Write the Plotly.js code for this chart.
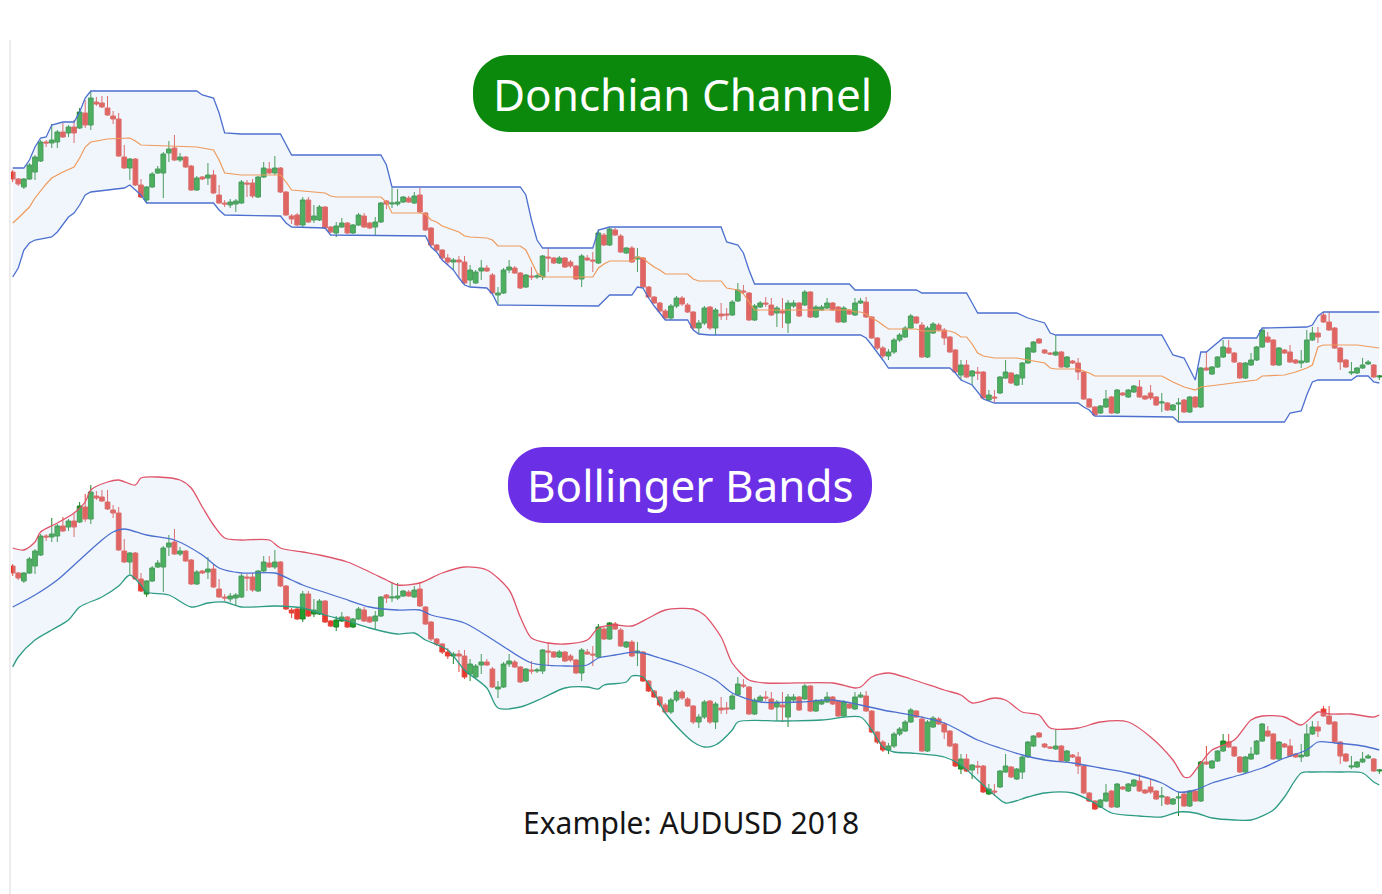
<!DOCTYPE html>
<html>
<head>
<meta charset="utf-8">
<script src="https://cdn.plot.ly/plotly-3.0.1.min.js"></script>
<style>html,body{margin:0;padding:0;background:#fff;}#chart{width:1382px;height:894px;}</style>
</head>
<body>
<div id="chart"></div>
<script>
// AUDUSD 2018 daily candles
const open = [
0.7884,0.7863,0.7839,0.7863,0.7884,0.7917,0.7974,0.7971,0.7974,0.8004,
0.8001,0.8019,0.8016,0.8061,0.8025,0.8094,0.8091,0.8076,0.8052,0.8043,
0.7929,0.7896,0.7923,0.7845,0.7800,0.7839,0.7881,0.7881,0.7941,0.7956,
0.7920,0.7929,0.7902,0.7830,0.7869,0.7866,0.7875,0.7815,0.7791,0.7785,
0.7788,0.7791,0.7851,0.7851,0.7809,0.7869,0.7893,0.7881,0.7896,0.7824,
0.7752,0.7755,0.7725,0.7800,0.7740,0.7740,0.7779,0.7719,0.7701,0.7719,
0.7731,0.7701,0.7725,0.7752,0.7731,0.7719,0.7734,0.7797,0.7788,0.7788,
0.7794,0.7806,0.7791,0.7815,0.7761,0.7716,0.7665,0.7650,0.7626,0.7614,
0.7620,0.7614,0.7560,0.7551,0.7587,0.7596,0.7575,0.7515,0.7521,0.7590,
0.7596,0.7581,0.7539,0.7572,0.7569,0.7569,0.7629,0.7626,0.7611,0.7626,
0.7614,0.7602,0.7563,0.7626,0.7620,0.7611,0.7695,0.7665,0.7710,0.7692,
0.7641,0.7656,0.7623,0.7626,0.7539,0.7509,0.7491,0.7467,0.7446,0.7482,
0.7506,0.7485,0.7464,0.7416,0.7431,0.7479,0.7416,0.7458,0.7458,0.7455,
0.7497,0.7527,0.7521,0.7440,0.7479,0.7491,0.7485,0.7461,0.7467,0.7431,
0.7482,0.7491,0.7485,0.7524,0.7449,0.7470,0.7476,0.7491,0.7479,0.7434,
0.7470,0.7455,0.7491,0.7494,0.7449,0.7386,0.7356,0.7332,0.7344,0.7380,
0.7389,0.7416,0.7449,0.7425,0.7329,0.7401,0.7425,0.7410,0.7389,0.7350,
0.7275,0.7305,0.7272,0.7284,0.7284,0.7200,0.7209,0.7221,0.7266,0.7281,
0.7245,0.7266,0.7311,0.7344,0.7383,0.7350,0.7341,0.7335,0.7344,0.7299,
0.7317,0.7311,0.7284,0.7203,0.7179,0.7161,0.7179,0.7209,0.7161,0.7221,
0.7209,0.7224,0.7239,0.7212,0.7221,0.7209,0.7191,0.7191,0.7170,0.7188,
0.7200,0.7164,0.7209,0.7179,0.7296,0.7278,0.7299,0.7329,0.7356,0.7341,
0.7311,0.7266,0.7305,0.7320,0.7359,0.7389,0.7380,0.7305,0.7350,0.7344,
0.7320,0.7311,0.7314,0.7380,0.7401,0.7455,0.7434,0.7416,0.7356,0.7320,
0.7281,0.7281,0.7296,0.7308,0.7305,0.7269];
const high = [
0.7890,0.7866,0.7866,0.7911,0.7935,0.7980,0.7980,0.8028,0.8010,0.8031,
0.8025,0.8040,0.8076,0.8100,0.8127,0.8109,0.8112,0.8112,0.8067,0.8061,
0.7965,0.7926,0.7926,0.7863,0.7842,0.7884,0.7902,0.7944,0.7977,0.7995,
0.7941,0.7932,0.7905,0.7872,0.7872,0.7911,0.7890,0.7845,0.7800,0.7803,
0.7803,0.7860,0.7860,0.7863,0.7872,0.7914,0.7914,0.7932,0.7899,0.7827,
0.7758,0.7761,0.7809,0.7809,0.7785,0.7785,0.7782,0.7722,0.7734,0.7746,
0.7734,0.7728,0.7761,0.7761,0.7734,0.7749,0.7794,0.7800,0.7836,0.7833,
0.7812,0.7812,0.7824,0.7836,0.7764,0.7719,0.7668,0.7653,0.7638,0.7626,
0.7632,0.7632,0.7605,0.7590,0.7620,0.7605,0.7581,0.7539,0.7596,0.7620,
0.7602,0.7584,0.7578,0.7599,0.7578,0.7635,0.7656,0.7629,0.7632,0.7629,
0.7620,0.7605,0.7638,0.7635,0.7644,0.7710,0.7701,0.7716,0.7716,0.7698,
0.7659,0.7662,0.7656,0.7629,0.7542,0.7512,0.7494,0.7473,0.7488,0.7512,
0.7512,0.7491,0.7467,0.7440,0.7482,0.7482,0.7476,0.7491,0.7476,0.7500,
0.7551,0.7545,0.7524,0.7488,0.7497,0.7509,0.7506,0.7482,0.7506,0.7500,
0.7500,0.7494,0.7530,0.7527,0.7485,0.7485,0.7506,0.7494,0.7482,0.7482,
0.7473,0.7506,0.7506,0.7509,0.7452,0.7389,0.7362,0.7353,0.7386,0.7401,
0.7422,0.7458,0.7452,0.7434,0.7422,0.7434,0.7431,0.7416,0.7392,0.7353,
0.7320,0.7320,0.7290,0.7299,0.7287,0.7230,0.7230,0.7272,0.7320,0.7284,
0.7278,0.7314,0.7359,0.7377,0.7386,0.7353,0.7344,0.7395,0.7347,0.7332,
0.7320,0.7326,0.7287,0.7206,0.7182,0.7185,0.7230,0.7212,0.7233,0.7224,
0.7233,0.7245,0.7260,0.7215,0.7245,0.7212,0.7221,0.7194,0.7188,0.7206,
0.7203,0.7212,0.7212,0.7299,0.7344,0.7302,0.7332,0.7380,0.7380,0.7344,
0.7314,0.7314,0.7341,0.7362,0.7413,0.7404,0.7383,0.7359,0.7353,0.7365,
0.7323,0.7350,0.7410,0.7419,0.7419,0.7464,0.7464,0.7419,0.7359,0.7323,
0.7314,0.7299,0.7326,0.7320,0.7308,0.7275];
const low = [
0.7854,0.7842,0.7833,0.7860,0.7860,0.7914,0.7959,0.7956,0.7956,0.7986,
0.7989,0.7971,0.8013,0.8016,0.8010,0.8082,0.8076,0.8052,0.8028,0.7929,
0.7893,0.7860,0.7842,0.7806,0.7791,0.7836,0.7878,0.7806,0.7914,0.7917,
0.7914,0.7896,0.7827,0.7827,0.7860,0.7845,0.7818,0.7788,0.7779,0.7776,
0.7764,0.7788,0.7809,0.7806,0.7806,0.7866,0.7878,0.7875,0.7821,0.7752,
0.7728,0.7722,0.7716,0.7731,0.7731,0.7737,0.7713,0.7701,0.7689,0.7716,
0.7698,0.7698,0.7722,0.7716,0.7713,0.7695,0.7731,0.7773,0.7776,0.7782,
0.7791,0.7791,0.7788,0.7761,0.7707,0.7659,0.7644,0.7620,0.7605,0.7590,
0.7566,0.7545,0.7539,0.7548,0.7560,0.7584,0.7518,0.7488,0.7518,0.7581,
0.7578,0.7533,0.7536,0.7560,0.7563,0.7560,0.7584,0.7608,0.7608,0.7596,
0.7596,0.7560,0.7539,0.7617,0.7584,0.7608,0.7662,0.7662,0.7692,0.7641,
0.7638,0.7611,0.7584,0.7536,0.7506,0.7488,0.7461,0.7440,0.7440,0.7476,
0.7482,0.7461,0.7410,0.7398,0.7425,0.7410,0.7395,0.7440,0.7440,0.7452,
0.7494,0.7518,0.7437,0.7437,0.7476,0.7479,0.7452,0.7419,0.7416,0.7401,
0.7476,0.7449,0.7482,0.7446,0.7446,0.7467,0.7473,0.7467,0.7431,0.7431,
0.7455,0.7452,0.7488,0.7446,0.7383,0.7350,0.7326,0.7320,0.7338,0.7374,
0.7386,0.7413,0.7428,0.7326,0.7326,0.7398,0.7407,0.7365,0.7341,0.7281,
0.7260,0.7266,0.7245,0.7260,0.7203,0.7197,0.7194,0.7218,0.7263,0.7248,
0.7242,0.7245,0.7308,0.7341,0.7368,0.7338,0.7335,0.7332,0.7296,0.7296,
0.7308,0.7260,0.7200,0.7176,0.7152,0.7158,0.7176,0.7158,0.7158,0.7212,
0.7206,0.7221,0.7206,0.7200,0.7200,0.7182,0.7164,0.7167,0.7167,0.7134,
0.7161,0.7161,0.7176,0.7176,0.7287,0.7275,0.7296,0.7326,0.7338,0.7311,
0.7263,0.7263,0.7302,0.7317,0.7356,0.7371,0.7302,0.7302,0.7338,0.7311,
0.7308,0.7296,0.7311,0.7377,0.7371,0.7431,0.7407,0.7353,0.7290,0.7296,
0.7275,0.7278,0.7293,0.7305,0.7266,0.7260];
const close = [
0.7863,0.7848,0.7863,0.7905,0.7929,0.7974,0.7971,0.7980,0.8004,0.7989,
0.8019,0.8001,0.8064,0.8025,0.8106,0.8088,0.8079,0.8055,0.8043,0.7932,
0.7896,0.7923,0.7845,0.7809,0.7839,0.7878,0.7893,0.7938,0.7953,0.7920,
0.7929,0.7899,0.7830,0.7866,0.7863,0.7875,0.7821,0.7791,0.7788,0.7794,
0.7797,0.7854,0.7848,0.7812,0.7869,0.7896,0.7881,0.7896,0.7824,0.7755,
0.7743,0.7725,0.7800,0.7734,0.7752,0.7779,0.7716,0.7704,0.7722,0.7731,
0.7701,0.7725,0.7755,0.7719,0.7716,0.7734,0.7791,0.7788,0.7791,0.7794,
0.7809,0.7794,0.7812,0.7764,0.7710,0.7665,0.7650,0.7626,0.7614,0.7620,
0.7614,0.7551,0.7590,0.7584,0.7596,0.7587,0.7521,0.7521,0.7590,0.7599,
0.7581,0.7536,0.7575,0.7569,0.7572,0.7632,0.7626,0.7611,0.7626,0.7599,
0.7602,0.7563,0.7632,0.7620,0.7617,0.7701,0.7665,0.7713,0.7695,0.7644,
0.7656,0.7614,0.7629,0.7539,0.7509,0.7491,0.7467,0.7446,0.7482,0.7506,
0.7488,0.7464,0.7416,0.7431,0.7476,0.7416,0.7470,0.7452,0.7455,0.7494,
0.7530,0.7524,0.7440,0.7482,0.7491,0.7488,0.7455,0.7476,0.7461,0.7491,
0.7491,0.7452,0.7524,0.7449,0.7479,0.7479,0.7491,0.7470,0.7434,0.7476,
0.7458,0.7491,0.7497,0.7449,0.7386,0.7356,0.7332,0.7344,0.7380,0.7395,
0.7416,0.7452,0.7431,0.7329,0.7416,0.7428,0.7410,0.7386,0.7344,0.7284,
0.7305,0.7269,0.7287,0.7281,0.7206,0.7215,0.7206,0.7269,0.7284,0.7251,
0.7275,0.7311,0.7356,0.7374,0.7371,0.7341,0.7338,0.7344,0.7299,0.7329,
0.7311,0.7284,0.7203,0.7179,0.7155,0.7182,0.7203,0.7161,0.7230,0.7215,
0.7230,0.7242,0.7209,0.7203,0.7206,0.7185,0.7194,0.7170,0.7185,0.7191,
0.7164,0.7209,0.7179,0.7296,0.7290,0.7299,0.7329,0.7359,0.7341,0.7314,
0.7266,0.7311,0.7320,0.7359,0.7410,0.7374,0.7305,0.7356,0.7341,0.7314,
0.7311,0.7317,0.7380,0.7401,0.7389,0.7434,0.7410,0.7356,0.7314,0.7299,
0.7284,0.7296,0.7305,0.7314,0.7269,0.7272];
const day = open.map((_, i) => i);   // trading-day index

// Donchian channel
const dcUpperDay = [0,2,3,4,5,6,7,9,11,12,13,14,33,34,36,37,38,41,48,49,50,66,67,68,91,92,93,94,95,104,105,107,127,128,130,131,132,133,150,151,162,163,171,172,173,180,182,185,186,187,206,208,210,212,213,214,216,217,223,224,232,233,234,235,245];
const dcUpper = [0.7896,0.7896,0.7920,0.7959,0.7986,0.7989,0.8025,0.8034,0.8034,0.8064,0.8106,0.8127,0.8127,0.8115,0.8106,0.8061,0.8001,0.7998,0.7998,0.7965,0.7935,0.7935,0.7905,0.7839,0.7839,0.7815,0.7740,0.7680,0.7656,0.7656,0.7710,0.7719,0.7719,0.7674,0.7665,0.7641,0.7590,0.7548,0.7548,0.7530,0.7530,0.7521,0.7521,0.7491,0.7461,0.7461,0.7446,0.7431,0.7401,0.7395,0.7395,0.7335,0.7326,0.7260,0.7344,0.7344,0.7374,0.7386,0.7386,0.7416,0.7419,0.7425,0.7452,0.7464,0.7464];
const dcLowerDay = [0,1,2,3,4,7,8,9,10,11,12,13,14,17,20,21,22,23,24,36,37,38,48,49,50,56,57,74,75,76,77,78,79,80,81,82,85,86,87,105,106,107,111,112,113,114,115,116,117,121,122,123,125,152,153,154,155,156,157,168,169,170,172,173,174,176,191,192,193,194,208,209,228,229,230,231,232,233,234,240,241,243,244,245];
const dcLower = [0.7569,0.7596,0.7650,0.7671,0.7680,0.7689,0.7704,0.7725,0.7749,0.7761,0.7785,0.7815,0.7824,0.7830,0.7836,0.7845,0.7830,0.7815,0.7791,0.7791,0.7770,0.7755,0.7752,0.7731,0.7719,0.7716,0.7695,0.7692,0.7659,0.7644,0.7620,0.7605,0.7590,0.7566,0.7545,0.7539,0.7536,0.7518,0.7485,0.7482,0.7500,0.7515,0.7515,0.7539,0.7536,0.7506,0.7482,0.7461,0.7440,0.7440,0.7410,0.7398,0.7395,0.7395,0.7386,0.7365,0.7344,0.7320,0.7296,0.7296,0.7281,0.7260,0.7245,0.7224,0.7203,0.7191,0.7191,0.7179,0.7170,0.7152,0.7149,0.7134,0.7134,0.7161,0.7164,0.7167,0.7215,0.7254,0.7260,0.7260,0.7272,0.7272,0.7254,0.7251];
const dcMidDay = [0,1,3,4,6,7,9,11,12,13,14,17,21,22,23,33,34,36,37,38,41,48,49,50,56,57,58,66,67,68,73,74,75,76,77,78,79,80,81,82,85,86,87,91,92,93,94,95,104,105,106,107,111,112,113,114,115,116,117,121,122,123,127,128,130,131,132,133,150,151,152,153,154,155,156,157,162,163,168,169,170,171,172,173,174,176,180,182,185,186,187,191,192,193,194,206,208,210,212,213,216,223,224,228,230,232,233,234,235,241,245];
const dcMid = [0.7731,0.7746,0.7779,0.7806,0.7848,0.7866,0.7884,0.7899,0.7926,0.7959,0.7974,0.7983,0.7986,0.7977,0.7965,0.7959,0.7956,0.7950,0.7920,0.7881,0.7875,0.7875,0.7854,0.7830,0.7821,0.7812,0.7809,0.7809,0.7794,0.7761,0.7761,0.7758,0.7740,0.7734,0.7722,0.7716,0.7710,0.7704,0.7692,0.7689,0.7686,0.7680,0.7662,0.7662,0.7650,0.7614,0.7581,0.7569,0.7569,0.7596,0.7608,0.7617,0.7617,0.7629,0.7626,0.7611,0.7599,0.7590,0.7578,0.7578,0.7563,0.7557,0.7557,0.7536,0.7530,0.7518,0.7494,0.7470,0.7470,0.7464,0.7464,0.7458,0.7446,0.7437,0.7425,0.7413,0.7413,0.7407,0.7407,0.7401,0.7389,0.7389,0.7368,0.7341,0.7332,0.7326,0.7326,0.7320,0.7311,0.7296,0.7293,0.7293,0.7287,0.7281,0.7272,0.7272,0.7254,0.7239,0.7230,0.7239,0.7245,0.7260,0.7272,0.7275,0.7284,0.7296,0.7305,0.7359,0.7365,0.7365,0.7356];

// Bollinger bands
const bbUpperDay = [0,2,4,5,8,11,13,14,17,19,22,23,26,30,32,34,36,38,41,46,48,52,55,60,64,67,69,73,77,81,85,89,91,93,96,99,103,105,108,111,114,117,122,124,127,129,132,135,147,151,152,154,157,161,167,170,172,176,178,181,184,186,191,195,200,204,208,210,211,213,215,219,222,224,228,231,234,236,240,244,245];
const bbUpper = [0.7938,0.7932,0.7956,0.7986,0.8013,0.8043,0.8076,0.8112,0.8136,0.8142,0.8127,0.8148,0.8151,0.8142,0.8118,0.8061,0.8007,0.7968,0.7962,0.7962,0.7938,0.7926,0.7917,0.7896,0.7866,0.7842,0.7827,0.7833,0.7863,0.7881,0.7872,0.7812,0.7731,0.7668,0.7653,0.7650,0.7662,0.7698,0.7707,0.7704,0.7728,0.7752,0.7755,0.7737,0.7671,0.7593,0.7542,0.7533,0.7533,0.7518,0.7521,0.7551,0.7563,0.7545,0.7512,0.7497,0.7473,0.7488,0.7482,0.7446,0.7437,0.7398,0.7398,0.7416,0.7416,0.7371,0.7302,0.7251,0.7251,0.7293,0.7332,0.7362,0.7422,0.7434,0.7431,0.7407,0.7446,0.7440,0.7440,0.7431,0.7437];
const bbMidDay = [0,4,8,12,16,18,20,24,29,34,37,41,47,50,52,59,64,69,73,75,81,87,93,99,103,105,108,112,116,120,126,129,134,141,147,152,156,161,167,173,177,181,185,190,195,200,206,209,212,215,220,224,228,232,234,237,242,245];
const bbMid = [0.7761,0.7797,0.7842,0.7902,0.7962,0.7986,0.7995,0.7977,0.7962,0.7917,0.7878,0.7863,0.7863,0.7842,0.7827,0.7788,0.7761,0.7752,0.7752,0.7737,0.7713,0.7653,0.7593,0.7584,0.7587,0.7608,0.7617,0.7626,0.7608,0.7587,0.7542,0.7503,0.7476,0.7476,0.7482,0.7467,0.7452,0.7437,0.7413,0.7362,0.7338,0.7317,0.7302,0.7293,0.7278,0.7263,0.7233,0.7206,0.7212,0.7233,0.7257,0.7278,0.7308,0.7332,0.7356,0.7353,0.7344,0.7332];
const bbLowerDay = [0,1,4,7,10,12,16,19,21,23,24,28,32,35,38,41,47,52,56,60,64,69,72,74,78,81,85,87,91,95,99,103,105,106,110,111,113,115,117,120,122,124,126,129,130,138,145,152,154,156,158,161,167,170,173,176,178,182,185,190,194,197,202,206,209,212,215,219,222,226,228,231,233,238,242,244,245];
const bbLower = [0.7581,0.7611,0.7662,0.7692,0.7722,0.7761,0.7791,0.7824,0.7857,0.7827,0.7806,0.7797,0.7761,0.7773,0.7776,0.7761,0.7764,0.7758,0.7737,0.7719,0.7698,0.7680,0.7683,0.7662,0.7632,0.7572,0.7518,0.7458,0.7461,0.7488,0.7518,0.7521,0.7515,0.7527,0.7536,0.7554,0.7551,0.7503,0.7443,0.7386,0.7356,0.7341,0.7347,0.7392,0.7416,0.7419,0.7422,0.7431,0.7392,0.7341,0.7326,0.7323,0.7311,0.7287,0.7242,0.7197,0.7173,0.7191,0.7203,0.7203,0.7173,0.7143,0.7134,0.7131,0.7146,0.7143,0.7128,0.7122,0.7122,0.7152,0.7191,0.7263,0.7266,0.7266,0.7263,0.7236,0.7227];

const titles = ['Donchian Channel', 'Bollinger Bands'];
const caption = 'Example: AUDUSD 2018';

// ---------- layout helpers (pixel -> paper) ----------
const W = 1382, H = 894;
const px = x => x / W, py = y => 1 - y / H;
function pillPath(x0, y0, x1, y1, r) {
  const k = 0.5523 * r;
  const P = (x, y) => px(x).toFixed(5) + ',' + py(y).toFixed(5);
  return 'M' + P(x0 + r, y0) + ' L' + P(x1 - r, y0) +
    ' C' + P(x1 - r + k, y0) + ' ' + P(x1, y0 + r - k) + ' ' + P(x1, y0 + r) +
    ' L' + P(x1, y1 - r) +
    ' C' + P(x1, y1 - r + k) + ' ' + P(x1 - r + k, y1) + ' ' + P(x1 - r, y1) +
    ' L' + P(x0 + r, y1) +
    ' C' + P(x0 + r - k, y1) + ' ' + P(x0, y1 - r + k) + ' ' + P(x0, y1 - r) +
    ' L' + P(x0, y0 + r) +
    ' C' + P(x0, y0 + r - k) + ' ' + P(x0 + r - k, y0) + ' ' + P(x0 + r, y0) + ' Z';
}

const firstX = 12.7, step = 5.578;        // candle 0 centre / spacing in px
const pxPerPrice = 1 / 0.0003;             // vertical scale
const topPriceAtY0 = 0.84;                 // price at pixel row 0 (top chart)
const offsetPx = 394;                      // bottom chart shift

const BLUE = '#4d70cf', ORANGE = '#ef9a5c', RED = '#e05469', TEAL = '#2e9c84';
const FILL = 'rgba(200,222,245,0.27)';

function line(x, y, color, yaxis, extra) {
  return Object.assign({type: 'scatter', mode: 'lines', x: x, y: y, yaxis: yaxis,
    line: {color: color, width: 1.3}, hoverinfo: 'skip', showlegend: false}, extra || {});
}
function candles(yaxis) {
  return {type: 'candlestick', x: day, open: open, high: high, low: low, close: close,
    yaxis: yaxis, whiskerwidth: 0, hoverinfo: 'skip', showlegend: false,
    increasing: {line: {color: '#1d8527', width: 1}, fillcolor: '#20a02a'},
    decreasing: {line: {color: '#e3463c', width: 1}, fillcolor: '#e8372c'}};
}

const traces = [
  line(dcLowerDay, dcLower, BLUE, 'y'),
  line(dcUpperDay, dcUpper, BLUE, 'y', {fill: 'tonexty', fillcolor: FILL}),
  line(dcMidDay, dcMid, ORANGE, 'y', {line: {color: ORANGE, width: 1.2}}),
  candles('y'),
  line(bbLowerDay, bbLower, TEAL, 'y2', {line: {color: TEAL, width: 1.3, shape: 'spline', smoothing: 0.8}}),
  line(bbUpperDay, bbUpper, RED, 'y2', {line: {color: RED, width: 1.3, shape: 'spline', smoothing: 0.8}, fill: 'tonexty', fillcolor: FILL}),
  line(bbMidDay, bbMid, BLUE, 'y2', {line: {color: BLUE, width: 1.3, shape: 'spline', smoothing: 0.8}}),
  candles('y2')
];

const topRange = [topPriceAtY0 - H / pxPerPrice, topPriceAtY0];
const botTop = topPriceAtY0 + offsetPx / pxPerPrice;
const botRange = [botTop - H / pxPerPrice, botTop];

const layout = {
  width: W, height: H,
  margin: {l: 0, r: 0, t: 0, b: 0},
  paper_bgcolor: '#ffffff', plot_bgcolor: '#ffffff',
  showlegend: false,
  boxmode: 'overlay', boxgap: 0.15, boxgroupgap: 0,
  xaxis: {range: [(0 - firstX) / step, (W - firstX) / step], visible: false,
          rangeslider: {visible: false}, fixedrange: true},
  yaxis: {range: topRange, visible: false, fixedrange: true},
  yaxis2: {range: botRange, visible: false, overlaying: 'y', fixedrange: true},
  shapes: [
    {type: 'line', xref: 'paper', yref: 'paper', x0: px(10), x1: px(10), y0: py(40), y1: py(H),
     line: {color: '#ececec', width: 2}},
    {type: 'path', xref: 'paper', yref: 'paper', path: pillPath(473, 55, 891, 132, 36),
     fillcolor: '#0a890c', line: {width: 0}},
    {type: 'path', xref: 'paper', yref: 'paper', path: pillPath(508, 447, 872, 523, 36),
     fillcolor: '#6b2fe6', line: {width: 0}}
  ],
  annotations: [
    {xref: 'paper', yref: 'paper', x: px(682), y: py(94), text: titles[0], showarrow: false,
     xanchor: 'center', yanchor: 'middle', font: {family: 'Noto Sans, sans-serif', size: 44, color: '#ffffff'}},
    {xref: 'paper', yref: 'paper', x: px(690), y: py(485), text: titles[1], showarrow: false,
     xanchor: 'center', yanchor: 'middle', font: {family: 'Noto Sans, sans-serif', size: 44, color: '#ffffff'}},
    {xref: 'paper', yref: 'paper', x: px(691), y: py(822), text: caption, showarrow: false,
     xanchor: 'center', yanchor: 'middle', font: {family: 'Noto Sans, sans-serif', size: 30, color: '#151515'}}
  ]
};

Plotly.newPlot('chart', traces, layout, {staticPlot: true, displayModeBar: false});
</script>
</body>
</html>
